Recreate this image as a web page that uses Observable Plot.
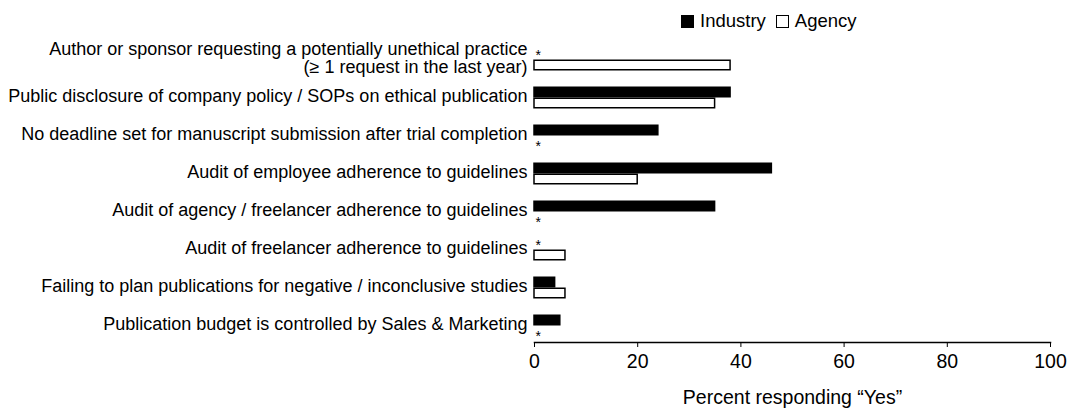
<!DOCTYPE html>
<html><head><meta charset="utf-8">
<script src="https://cdn.jsdelivr.net/npm/d3@7"></script>
<script src="https://cdn.jsdelivr.net/npm/@observablehq/plot@0.6"></script>
<style>
body{margin:0;background:#fff;font-family:"Liberation Sans",Arial,sans-serif;}
#wrap{position:relative;width:1072px;height:409px;}
#legend{position:absolute;left:681px;top:11px;display:flex;align-items:center;font-size:18.5px;color:#000;line-height:20px;}
.sw{display:inline-block;width:13px;height:13px;box-sizing:border-box;margin-right:6px;}
.item{display:flex;align-items:center;margin-right:10px;}
</style></head><body><div id="wrap"><div id="legend"></div></div>
<script>
const questions = [
  "Author or sponsor requesting a potentially unethical practice\n(≥ 1 request in the last year)",
  "Public disclosure of company policy / SOPs on ethical publication",
  "No deadline set for manuscript submission after trial completion",
  "Audit of employee adherence to guidelines",
  "Audit of agency / freelancer adherence to guidelines",
  "Audit of freelancer adherence to guidelines",
  "Failing to plan publications for negative / inconclusive studies",
  "Publication budget is controlled by Sales & Marketing"
];
const series = ["Industry", "Agency"];
const seriesFill = ["black", "white"];
const industry = [null, 38, 24, 46, 35, null, 4, 5];
const agency = [38, 35, null, 20, null, 6, 6, null];
const xTicks = [0, 20, 40, 60, 80, 100];
const xLabel = "Percent responding “Yes”";
const missingMark = "*";

// legend
const legend = document.getElementById("legend");
series.forEach((s, i) => {
  const item = document.createElement("span");
  item.className = "item";
  const sw = document.createElement("span");
  sw.className = "sw";
  sw.style.background = seriesFill[i];
  sw.style.border = "1.5px solid black";
  item.appendChild(sw);
  item.appendChild(document.createTextNode(s));
  legend.appendChild(item);
});

const rows = questions.flatMap((q, i) => [
  {q, s: series[0], v: industry[i]},
  {q, s: series[1], v: agency[i]}
]);
const bars = rows.filter(d => d.v != null);
const missingInd = rows.filter(d => d.v == null && d.s === series[0]);
const missingAg = rows.filter(d => d.v == null && d.s === series[1]);

const chart = Plot.plot({
  width: 1072, height: 409,
  marginLeft: 534, marginRight: 22, marginTop: 40.5, marginBottom: 63.5,
  style: {fontFamily: "'Liberation Sans', Arial, sans-serif", color: "black", background: "white"},
  x: {domain: [0, 100]},
  y: {domain: series, paddingInner: 0, paddingOuter: 0.478, axis: null},
  fy: {domain: questions, paddingInner: 0.122, paddingOuter: 0, label: null},
  color: {domain: series, range: seriesFill},
  marks: [
    Plot.axisFy({anchor: "left", tickSize: 0, tickPadding: 7, fontSize: 18, label: null, lineHeight: 1.0, dy: -2}),
    Plot.axisX({ticks: xTicks, tickSize: 5, tickPadding: 7, fontSize: 19.5, label: xLabel, labelAnchor: "center", labelArrow: "none", labelOffset: 61}),
    Plot.frame({anchor: "bottom", facetAnchor: "bottom", strokeWidth: 1.5}),
    Plot.barX(bars, {fy: "q", y: "s", x: "v", fill: "s", stroke: "black", strokeWidth: 1.5, insetTop: 0.75, insetBottom: 0.75}),
    Plot.text(missingInd, {fy: "q", y: "s", x: 0, text: () => missingMark, textAnchor: "start", dx: 1, dy: 1.5, fontSize: 14}),
    Plot.text(missingAg, {fy: "q", y: "s", x: 0, text: () => missingMark, textAnchor: "start", dx: 1, dy: 5.5, fontSize: 14})
  ]
});
chart.style.position = "absolute";
chart.style.left = "0";
chart.style.top = "0";
document.getElementById("wrap").insertBefore(chart, legend);
</script>
</body></html>
